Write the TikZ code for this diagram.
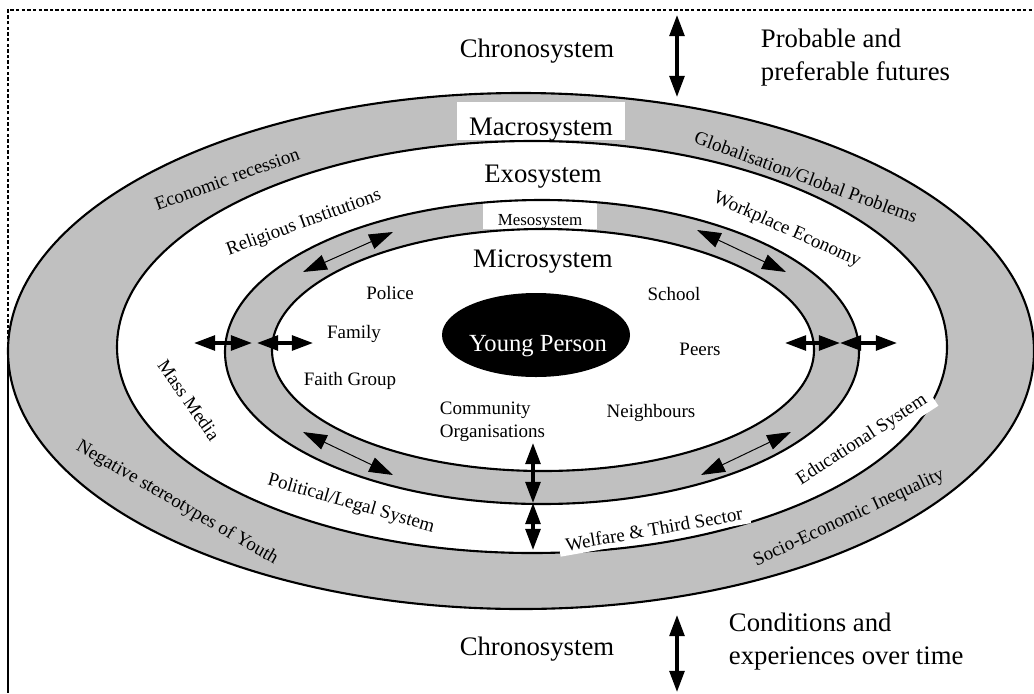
\documentclass[tikz,border=0pt]{standalone}
\usepackage{fontspec}
\setmainfont{Liberation Serif}
\usetikzlibrary{arrows.meta}
\definecolor{ringgray}{RGB}{192,192,192}

\begin{document}
\begin{tikzpicture}[x=0.025cm,y=-0.025cm,
  ring/.style={draw=black,line width=1.5pt},
  big/.style={font=\fontsize{19}{23.5}\selectfont},
  small/.style={font=\fontsize{13.5}{16}\selectfont},
  patch/.style={fill=white,inner xsep=5pt,inner ysep=3pt},
  bigarrow/.style={line width=2.4pt,{Triangle[length=15pt,width=10.5pt]}-{Triangle[length=15pt,width=10.5pt]}},
  linkarrow/.style={line width=0.7pt,{Triangle[length=17pt,width=11pt]}-{Triangle[length=17pt,width=11pt]}}]
\useasboundingbox (0,0) rectangle (1034,693);

% frame
\draw[line width=1.6pt,dash pattern=on 2.4pt off 1.6pt] (8,345) -- (8,10) -- (1034,10);
\draw[line width=1.9pt] (8,345) -- (8,693);

% rings
\fill[ringgray] (521,351) ellipse [x radius=513, y radius=258];
\fill[white] (532,347) ellipse [x radius=415, y radius=206];
\fill[ringgray] (542,352) ellipse [x radius=317, y radius=152];
\fill[white] (543,350) ellipse [x radius=271, y radius=121];
\node[fill=white,inner sep=0pt,minimum width=4.175cm,text height=0.825cm,text depth=0.125cm,big] (macro) at (541,121) {Macrosystem};
\node[fill=white,inner sep=0pt,minimum width=2.85cm,text height=0.65cm,text depth=0.1cm,font=\fontsize{12}{14}\selectfont] (meso) at (540,214) {Mesosystem};
\draw[ring] (521,351) ellipse [x radius=513, y radius=258]
            (532,347) ellipse [x radius=415, y radius=206]
            (542,352) ellipse [x radius=317, y radius=152]
            (543,350) ellipse [x radius=271, y radius=121];
\fill (536,335) ellipse [x radius=94, y radius=42];

% labels
\node[big] (chronotop) at (537,51) {Chronosystem};
\node[big,anchor=west,align=left] (futures) at (756,58) {Probable and\\preferable futures};
\node[big] (exo) at (543,177) {Exosystem};
\node[big] (micro) at (543,262) {Microsystem};
\node[text=white,font=\fontsize{17.5}{20}\selectfont] (young) at (538,346) {Young Person};
\node[small] (police) at (390,293) {Police};
\node[small] (family) at (354,334) {Family};
\node[small] (school) at (674,294) {School};
\node[small] (peers) at (700,349) {Peers};
\node[small] (faith) at (350,381) {Faith Group};
\node[small,anchor=west,align=left] (community) at (435,422) {Community\\Organisations};
\node[small] (neighbours) at (651,413) {Neighbours};
\node[small,rotate=20] (recession) at (227,179) {Economic recession};
\node[small,rotate=20] (religious) at (304,223) {Religious Institutions};
\node[small,rotate=-20] (global) at (806,177) {Globalisation/Global Problems};
\node[small,rotate=-24] (workplace) at (787,230) {Workplace Economy};
\node[small,rotate=-55] (media) at (189,400) {Mass Media};
\node[small,rotate=-30] (stereotypes) at (177,503) {Negative stereotypes of Youth};
\node[small,rotate=-16] (political) at (351,504) {Political/Legal System};
\node[small,rotate=10,patch] (welfare) at (654,529) {Welfare \& Third Sector};
\node[small,rotate=33,patch] (education) at (862,440) {Educational System};
\node[small,rotate=25] (inequality) at (849,518) {Socio-Economic Inequality};
\node[big] (chronobot) at (537,649) {Chronosystem};
\node[big,anchor=west,align=left] (conditions) at (724,642) {Conditions and\\experiences over time};

% arrows
\coordinate (fut1) at (677,15); \coordinate (fut2) at (677,97);
\coordinate (past1) at (677,615); \coordinate (past2) at (677,692);
\coordinate (wl1) at (194,343); \coordinate (wl2) at (252,343);
\coordinate (wl3) at (257,343); \coordinate (wl4) at (313,343);
\coordinate (el1) at (785,343); \coordinate (el2) at (840,343);
\coordinate (el3) at (840,343); \coordinate (el4) at (897,343);
\coordinate (sl1) at (533,443); \coordinate (sl2) at (533,503);
\coordinate (sl3) at (533,550);
\coordinate (ula) at (303,272); \coordinate (ulb) at (393,232);
\coordinate (ura) at (697,230); \coordinate (urb) at (786,272);
\coordinate (lla) at (303,432); \coordinate (llb) at (393,475);
\coordinate (lra) at (701,475); \coordinate (lrb) at (791,432);
\draw[bigarrow] (fut1) -- (fut2);
\draw[bigarrow] (past1) -- (past2);
\draw[bigarrow] (wl1) -- (wl2);
\draw[bigarrow] (wl3) -- (wl4);
\draw[bigarrow] (el1) -- (el2);
\draw[bigarrow] (el3) -- (el4);
\draw[bigarrow] (sl1) -- (sl2);
\draw[bigarrow] (sl2) -- (sl3);
\draw[linkarrow] (ula) -- (ulb);
\draw[linkarrow] (ura) -- (urb);
\draw[linkarrow] (lla) -- (llb);
\draw[linkarrow] (lra) -- (lrb);
\end{tikzpicture}
\end{document}
